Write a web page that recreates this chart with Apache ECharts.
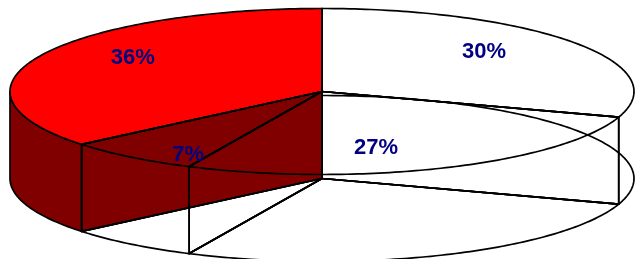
<!DOCTYPE html>
<html><head><meta charset="utf-8">
<style>html,body{margin:0;padding:0;background:#fff;overflow:hidden}#c{width:635px;height:259px}</style>
<script src="https://cdn.jsdelivr.net/npm/echarts@6/dist/echarts.min.js"></script>
</head><body><div id="c"></div>
<script>
// ---- data ----
const categories = ['Slice 1', 'Slice 2', 'Slice 3', 'Slice 4'];
const values = [30, 27, 7, 36];
const labelTexts = ['30%', '27%', '7%', '36%'];

// ---- styling / layout (not data) ----
const fillTop = [null, null, null, '#FF0000'];
const fillSide = [null, null, null, '#800000'];
const labelFrac = [[0.642, 0.81], [0.436, 0.742], [0.70, 0.968], [0.67, 0.947]];
const CX = 322, CY = 91.5, RX = 312, RY = 83, DEPTH = 87;

const total = values.reduce((a, b) => a + b, 0);
function pt(deg, dz) {
  const r = deg * Math.PI / 180;
  return [CX + RX * Math.cos(r), CY - RY * Math.sin(r) + dz];
}
function arc(a0, a1, dz) {
  const n = Math.max(2, Math.ceil(Math.abs(a1 - a0) / 1.0));
  const out = [];
  for (let i = 0; i <= n; i++) out.push(pt(a0 + (a1 - a0) * i / n, dz));
  return out;
}
function sliceRange(idx) {
  let cum = 0;
  for (let i = 0; i < idx; i++) cum += values[i];
  const start = 90 - 360 * cum / total;
  const end = start - 360 * values[idx] / total;
  return [end, start]; // lo, hi
}

function renderItem(params, api) {
  const idx = params.dataIndex;
  const [lo, hi] = sliceRange(idx);
  const c0 = [CX, CY], c1 = [CX, CY + DEPTH];
  const children = [];
  const stroke = '#000';
  const lw = 1.7;
  if (fillTop[idx]) {
    [lo, hi].forEach(a => {
      children.push({ type: 'polygon', z2: 1, shape: { points: [c0, pt(a, 0), pt(a, DEPTH), c1] },
        style: { fill: fillSide[idx], stroke: stroke, lineWidth: lw, lineJoin: 'round' } });
    });
    for (let k = -2; k <= 1; k++) {
      const s = Math.max(lo, 180 + 360 * k), e = Math.min(hi, 360 + 360 * k);
      if (e > s) {
        children.push({ type: 'polygon', z2: 1, shape: { points: arc(s, e, 0).concat(arc(e, s, DEPTH)) },
          style: { fill: fillSide[idx], stroke: stroke, lineWidth: lw, lineJoin: 'round' } });
      }
    }
    children.push({ type: 'polygon', z2: 1, shape: { points: [c0].concat(arc(hi, lo, 0)) },
      style: { fill: fillTop[idx], stroke: stroke, lineWidth: lw, lineJoin: 'round' } });
  } else {
    const st = { fill: 'none', stroke: stroke, lineWidth: lw, lineJoin: 'round' };
    children.push({ type: 'polygon', z2: 2, shape: { points: [c0].concat(arc(hi, lo, 0)) }, style: st });
    children.push({ type: 'polygon', z2: 2, shape: { points: [c1].concat(arc(hi, lo, DEPTH)) }, style: st });
    [lo, hi].forEach(a => {
      children.push({ type: 'polygon', z2: 2, shape: { points: [c0, pt(a, 0), pt(a, DEPTH), c1] }, style: st });
    });
  }
  const mid = (lo + hi) / 2 * Math.PI / 180;
  const f = labelFrac[idx];
  children.push({ type: 'text', z2: 3,
    x: CX + f[0] * RX * Math.cos(mid), y: CY - f[1] * RY * Math.sin(mid),
    style: { text: labelTexts[idx], fill: '#000080', font: 'bold 22px "Liberation Sans", Arial, sans-serif',
      align: 'center', verticalAlign: 'middle' } });
  return { type: 'group', children: children };
}

const chart = echarts.init(document.getElementById('c'), null, { renderer: 'canvas' });
chart.setOption({
  animation: false,
  backgroundColor: '#fff',
  series: [{
    type: 'custom',
    coordinateSystem: 'none',
    silent: true,
    data: values.map((v, i) => ({ name: categories[i], value: v })),
    renderItem: renderItem
  }]
});
</script></body></html>
